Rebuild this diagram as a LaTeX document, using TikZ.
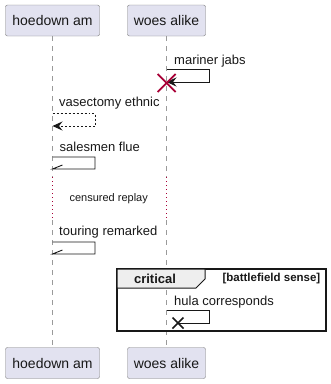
\documentclass[tikz,border=0pt]{standalone}
\usepackage{fontspec}
\setmainfont{Liberation Sans}
\usetikzlibrary{arrows.meta,calc}
\definecolor{partfill}{HTML}{E2E2F0}
\definecolor{partline}{HTML}{7A7A7A}
\definecolor{lifeline}{HTML}{9A9A9A}
\definecolor{ink}{HTML}{181818}
\definecolor{crimson}{HTML}{A80036}
\definecolor{tabfill}{HTML}{EEEEEE}
\tikzset{
  part/.style={draw=partline, fill=partfill, rounded corners=2pt, minimum height=31pt,
    inner sep=0pt, font=\fontsize{14}{16}\selectfont, text=ink},
  life/.style={draw=lifeline, dash pattern=on 5pt off 5pt, line width=0.8pt},
  delayline/.style={draw=crimson, dash pattern=on 1pt off 3pt, line width=1pt},
  msg/.style={font=\fontsize{13}{15}\selectfont, text=ink, anchor=west, inner sep=0pt},
  call/.style={draw=ink, line width=0.9pt, -{Stealth[length=10pt,width=9pt,inset=3.5pt]}},
  reply/.style={call, dash pattern=on 2pt off 2pt},
  plain/.style={draw=ink, line width=0.9pt},
}
\begin{document}
\begin{tikzpicture}[x=1pt,y=-1pt]
\useasboundingbox (0,0) rectangle (331,384);

% participants, top and bottom
\node[part, minimum width=94pt] (hTop) at (52.5,20.5) {hoedown am};
\node[part, minimum width=78pt] (wTop) at (166.5,20.5) {woes alike};
\node[part, minimum width=94pt] (hBot) at (52.5,363) {hoedown am};
\node[part, minimum width=78pt] (wBot) at (166.5,363) {woes alike};

% lifelines, interrupted by the delay
\coordinate (hD1) at (52.5,177);
\coordinate (hD2) at (52.5,220);
\coordinate (wD1) at (166.5,177);
\coordinate (wD2) at (166.5,220);
\draw[life] (hTop.south) -- (hD1);
\draw[life] (hD2) -- (hBot.north);
\draw[life] (wTop.south) -- (wD1);
\draw[life] (wD2) -- (wBot.north);
\draw[delayline] (hD1) -- (hD2);
\draw[delayline] (wD1) -- (wD2);
\node[font=\fontsize{11}{13}\selectfont, text=ink, inner sep=0pt] (delay) at (108.7,199) {censured replay};

% mariner jabs: self call ending in destruction
\node[msg] (m1) at (174,61) {mariner jabs};
\coordinate (m1a) at (166.5,69);
\coordinate (m1b) at (209,69);
\coordinate (m1c) at (209,82);
\coordinate (m1d) at (166.5,82);
\draw[call] (m1a) -- (m1b) -- (m1c) -- (m1d);
\coordinate (kill) at (166.7,83);
\draw[crimson, line width=1.8pt] ($(kill)+(-9,-9)$) -- ($(kill)+(9,9)$);
\draw[crimson, line width=1.8pt] ($(kill)+(-9,9)$) -- ($(kill)+(9,-9)$);

% vasectomy ethnic: dashed self reply
\node[msg] (m2) at (59,103) {vasectomy ethnic};
\coordinate (m2a) at (52.5,113);
\coordinate (m2b) at (95,113);
\coordinate (m2c) at (95,126);
\coordinate (m2d) at (52.5,126);
\draw[reply] (m2a) -- (m2b) -- (m2c) -- (m2d);

% salesmen flue: half-headed self call
\node[msg] (m3) at (59.5,147) {salesmen flue};
\coordinate (m3a) at (52.5,157);
\coordinate (m3b) at (95,157);
\coordinate (m3c) at (95,169);
\coordinate (m3d) at (52.5,169);
\coordinate (m3h) at (62.5,165);
\draw[plain] (m3a) -- (m3b) -- (m3c) -- (m3d) -- (m3h);

% touring remarked: half-headed self call
\node[msg] (m4) at (59,232) {touring remarked};
\coordinate (m4a) at (52.5,242);
\coordinate (m4b) at (95,242);
\coordinate (m4c) at (95,254);
\coordinate (m4d) at (52.5,254);
\coordinate (m4h) at (62.5,250);
\draw[plain] (m4a) -- (m4b) -- (m4c) -- (m4d) -- (m4h);

% critical group
\draw[ink, line width=1.5pt] (117,269) rectangle (326,331);
\draw[ink, line width=1pt, fill=tabfill] (117,269) -- (205,269) -- (205,279) -- (196,288) -- (117,288) -- cycle;
\node[font=\fontsize{13}{15}\bfseries, text=ink, inner sep=0pt] (crit) at (155,279) {critical};
\node[font=\fontsize{11.5}{13}\bfseries, text=ink, inner sep=0pt, anchor=east] (guard) at (320.5,279) {[battlefield sense]};

% hula corresponds: self call to a lost end
\node[msg] (m5) at (174,302) {hula corresponds};
\coordinate (m5a) at (166.5,310);
\coordinate (m5b) at (209,310);
\coordinate (m5c) at (209,323);
\coordinate (m5d) at (178,323);
\draw[plain] (m5a) -- (m5b) -- (m5c) -- (m5d);
\draw[ink, line width=1.5pt] ($(m5d)+(-5.5,-5.5)$) -- ($(m5d)+(5.5,5.5)$);
\draw[ink, line width=1.5pt] ($(m5d)+(-5.5,5.5)$) -- ($(m5d)+(5.5,-5.5)$);
\end{tikzpicture}
\end{document}
